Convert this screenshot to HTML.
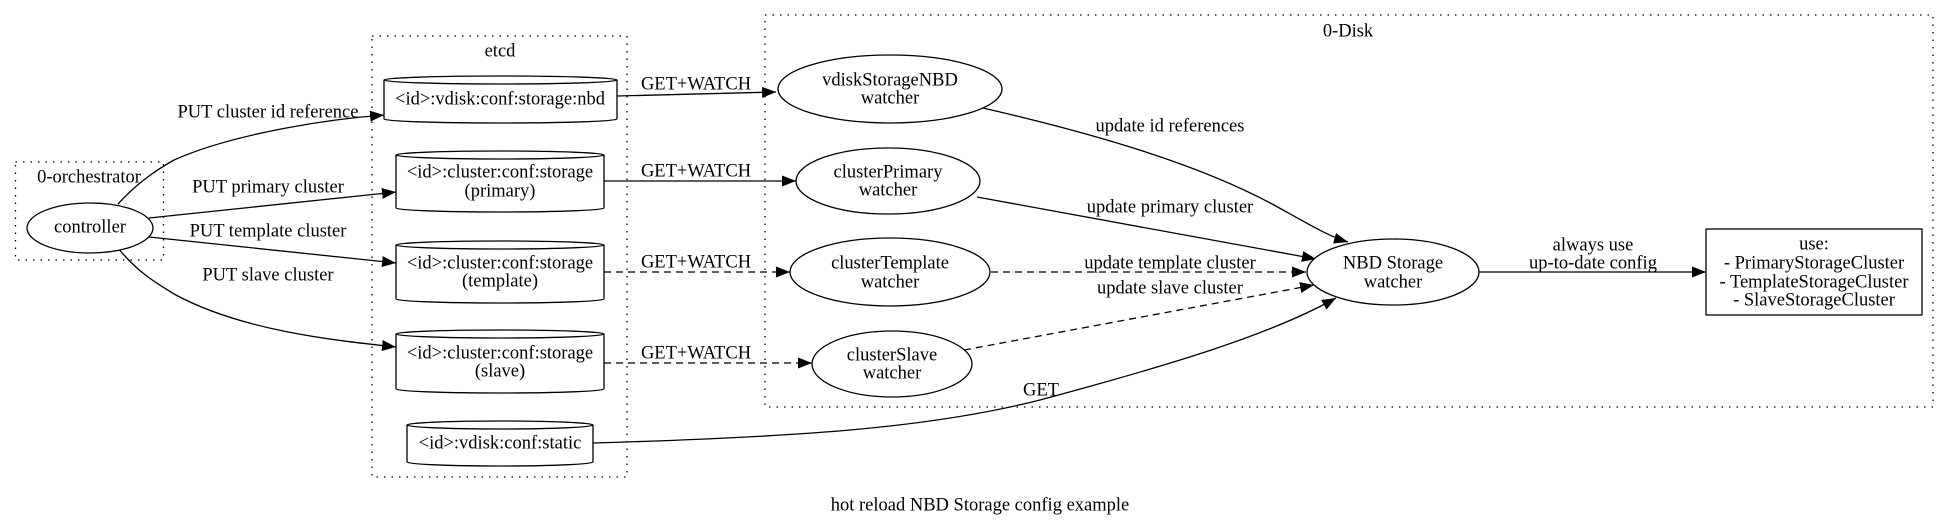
<!DOCTYPE html>
<html><head><meta charset="utf-8"><style>
html,body{margin:0;padding:0;background:#fff}
svg{display:block}
text{font-family:"Liberation Serif",serif;font-size:18.5px;fill:#000;text-anchor:middle;dominant-baseline:middle}
.s{fill:none;stroke:#000;stroke-width:1.3}
.d{fill:none;stroke:#000;stroke-width:1.3;stroke-dasharray:7,5}
.c{fill:none;stroke:#000;stroke-width:1.3;stroke-dasharray:1.5,6}
.n{fill:#fff;stroke:#000;stroke-width:1.3}
</style></head><body>
<svg width="1950" height="524" viewBox="0 0 1950 524" xmlns="http://www.w3.org/2000/svg">
<defs>
<marker id="a" markerUnits="userSpaceOnUse" markerWidth="16" markerHeight="12" refX="14" refY="5.5" orient="auto"><path d="M0,0 L14,5.5 L0,11 Z" fill="#000"/></marker>
</defs>
<rect class="c" x="15.5" y="162" width="148" height="98"/>
<text x="89" y="178">0-orchestrator</text>
<rect class="c" x="372" y="36" width="255" height="441"/>
<text x="500" y="52">etcd</text>
<rect class="c" x="765" y="15" width="1168" height="392"/>
<text x="1348" y="32">0-Disk</text>

<path class="s" d="M118,204 C140,180 160,168 174,160 C230,135 320,120 384,115" marker-end="url(#a)"/>
<path class="s" d="M149,218 L396,192" marker-end="url(#a)"/>
<path class="s" d="M149,237 L396,263" marker-end="url(#a)"/>
<path class="s" d="M118,248 C140,275 160,285 174,294 C240,330 330,340 396,347" marker-end="url(#a)"/>
<text x="268" y="113">PUT cluster id reference</text>
<text x="268" y="188">PUT primary cluster</text>
<text x="268" y="232">PUT template cluster</text>
<text x="268" y="276">PUT slave cluster</text>

<path class="s" d="M617,96 L776,92" marker-end="url(#a)"/>
<path class="s" d="M604,181 L796,181" marker-end="url(#a)"/>
<path class="d" d="M604,272 L790,272" marker-end="url(#a)"/>
<path class="d" d="M604,363 L812,363" marker-end="url(#a)"/>
<text x="696" y="85">GET+WATCH</text>
<text x="696" y="172">GET+WATCH</text>
<text x="696" y="263">GET+WATCH</text>
<text x="696" y="354">GET+WATCH</text>

<path class="s" d="M593,443 C800,437 930,428 1040,400 C1170,365 1270,335 1336,298" marker-end="url(#a)"/>
<text x="1041" y="391">GET</text>

<path class="s" d="M983,108 C1100,135 1200,165 1274,205 C1310,225 1330,237 1348,242" marker-end="url(#a)"/>
<path class="s" d="M977,197 L1316,259" marker-end="url(#a)"/>
<path class="d" d="M991,272 L1306,272" marker-end="url(#a)"/>
<path class="d" d="M964,350 L1314,285" marker-end="url(#a)"/>
<text x="1170" y="127">update id references</text>
<text x="1170" y="208">update primary cluster</text>
<text x="1170" y="264">update template cluster</text>
<text x="1170" y="289">update slave cluster</text>

<path class="s" d="M1479,272 L1706,272" marker-end="url(#a)"/>
<text x="1593" y="246">always use</text>
<text x="1593" y="264">up-to-date config</text>

<ellipse class="n" cx="90" cy="228" rx="63" ry="25"/>
<text x="90" y="228">controller</text>

<g>
<path class="n" d="M384,80 A116.5,4 0 0 1 617,80 L617,119 A116.5,4 0 0 1 384,119 Z"/>
<path class="s" d="M384,80 A116.5,4 0 0 0 617,80"/>
<text x="500" y="100">&lt;id&gt;:vdisk:conf:storage:nbd</text>
</g>
<g>
<path class="n" d="M396,155 A104,4 0 0 1 604,155 L604,208 A104,4 0 0 1 396,208 Z"/>
<path class="s" d="M396,155 A104,4 0 0 0 604,155"/>
<text x="500" y="173">&lt;id&gt;:cluster:conf:storage</text>
<text x="500" y="192">(primary)</text>
</g>
<g>
<path class="n" d="M396,245 A104,4 0 0 1 604,245 L604,299 A104,4 0 0 1 396,299 Z"/>
<path class="s" d="M396,245 A104,4 0 0 0 604,245"/>
<text x="500" y="264">&lt;id&gt;:cluster:conf:storage</text>
<text x="500" y="282">(template)</text>
</g>
<g>
<path class="n" d="M396,334 A104,4 0 0 1 604,334 L604,389 A104,4 0 0 1 396,389 Z"/>
<path class="s" d="M396,334 A104,4 0 0 0 604,334"/>
<text x="500" y="354">&lt;id&gt;:cluster:conf:storage</text>
<text x="500" y="372">(slave)</text>
</g>
<g>
<path class="n" d="M407,425 A93,4 0 0 1 593,425 L593,462 A93,4 0 0 1 407,462 Z"/>
<path class="s" d="M407,425 A93,4 0 0 0 593,425"/>
<text x="500" y="444">&lt;id&gt;:vdisk:conf:static</text>
</g>

<ellipse class="n" cx="890" cy="89" rx="112" ry="34"/>
<text x="890" y="81">vdiskStorageNBD</text>
<text x="890" y="99">watcher</text>
<ellipse class="n" cx="888" cy="181" rx="92" ry="33"/>
<text x="888" y="173">clusterPrimary</text>
<text x="888" y="191">watcher</text>
<ellipse class="n" cx="890" cy="272" rx="100" ry="34"/>
<text x="890" y="264">clusterTemplate</text>
<text x="890" y="283">watcher</text>
<ellipse class="n" cx="892" cy="364" rx="80" ry="33"/>
<text x="892" y="356">clusterSlave</text>
<text x="892" y="374">watcher</text>
<ellipse class="n" cx="1393" cy="272" rx="86" ry="33"/>
<text x="1393" y="264">NBD Storage</text>
<text x="1393" y="283">watcher</text>

<rect class="n" x="1706" y="229" width="216" height="86"/>
<text x="1814" y="245">use:</text>
<text x="1814" y="264">- PrimaryStorageCluster</text>
<text x="1814" y="283">- TemplateStorageCluster</text>
<text x="1814" y="301">- SlaveStorageCluster</text>

<text x="980" y="506">hot reload NBD Storage config example</text>
</svg>
</body></html>
